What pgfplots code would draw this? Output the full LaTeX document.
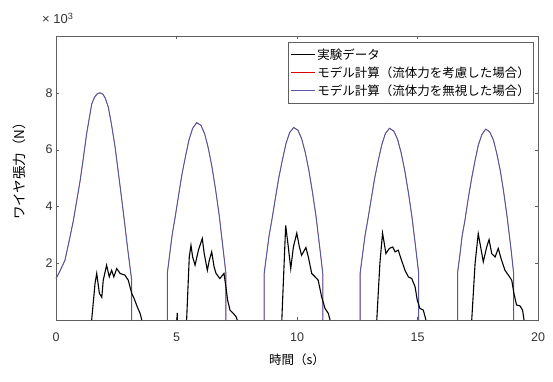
\documentclass[border=0pt]{standalone}
\usepackage{pgfplots}
\usepackage{pgfplotstable}
\pgfplotsset{compat=1.18}
\usepackage{fontspec}
\setmainfont{Liberation Sans}
\newfontfamily\jp{Noto Sans CJK JP}
\definecolor{modelblue}{RGB}{84,88,160}
\definecolor{axgray}{RGB}{95,95,95}

\pgfplotstableread{
t v
0 1.46
0.15 1.7
0.37 2.1
0.55 2.8
0.72 3.5
0.9 4.4
1.0 4.9
1.15 5.8
1.27 6.55
1.4 7.2
1.48 7.6
1.6 7.85
1.72 7.97
1.83 8.0
1.95 7.95
2.05 7.8
2.17 7.5
2.3 6.9
2.45 6.1
2.6 5.1
2.72 4.3
2.85 3.4
2.96 2.6
3.05 2.0
3.14 1.4
3.14 0
nan nan
4.62 0
4.62 1.65
4.72 2.33
4.82 3.0
4.94 3.6
5.07 4.3
5.22 5.1
5.37 5.75
5.52 6.35
5.67 6.75
5.84 6.95
6.02 6.85
6.17 6.55
6.32 6.05
6.47 5.4
6.62 4.6
6.77 3.7
6.92 2.6
7.05 1.64
7.05 0
nan nan
8.64 0
8.64 1.65
8.74 2.31
8.84 2.96
8.96 3.54
9.09 4.22
9.24 4.99
9.39 5.62
9.54 6.2
9.69 6.59
9.86 6.78
10.04 6.68
10.19 6.39
10.34 5.91
10.49 5.28
10.64 4.51
10.79 3.64
10.94 2.58
11.07 1.64
11.07 0
nan nan
12.62 0
12.62 1.65
12.72 2.31
12.82 2.96
12.94 3.54
13.07 4.21
13.22 4.98
13.37 5.61
13.52 6.18
13.67 6.57
13.84 6.75
14.02 6.65
14.17 6.37
14.32 5.89
14.47 5.27
14.62 4.5
14.77 3.63
14.92 2.58
15.05 1.64
15.05 0
nan nan
16.66 0
16.66 1.65
16.76 2.3
16.85 2.95
16.97 3.52
17.09 4.2
17.24 4.96
17.38 5.58
17.52 6.15
17.67 6.53
17.83 6.72
18.0 6.62
18.15 6.34
18.29 5.86
18.44 5.24
18.58 4.48
18.72 3.62
18.87 2.57
18.99 1.64
18.99 0
}\modeldata

\pgfplotstableread{
t v
1.48 0
1.62 1.29
1.69 1.64
1.8 0.94
1.9 0.8
1.96 1.4
2.1 1.93
2.21 1.52
2.31 1.75
2.4 1.52
2.52 1.81
2.66 1.64
2.86 1.58
3.0 1.4
3.14 0.94
3.24 0.76
3.37 0.47
3.49 0.23
3.56 0
nan nan
5.03 0
5.03 0.25
nan nan
5.42 0.0
5.53 2.22
5.60 2.63
5.67 2.22
5.77 1.93
5.91 2.46
6.07 2.87
6.15 2.34
6.28 1.75
6.36 2.1
6.46 2.4
6.56 1.87
6.64 1.64
6.8 1.46
6.97 1.64
7.05 1.17
7.12 0.7
7.22 0.35
7.36 0.23
7.47 0.12
7.52 0
nan nan
9.37 0
9.53 3.33
9.64 2.57
9.74 1.81
9.85 2.57
9.99 3.06
10.1 2.57
10.19 2.28
10.37 2.55
10.47 2.22
10.61 1.64
10.75 1.52
10.88 1.4
11.02 0.82
11.16 0.41
11.3 0.23
11.37 0
nan nan
13.31 0
13.44 2.0
13.55 3.06
13.69 2.34
13.83 2.52
13.97 2.57
14.07 2.4
14.2 2.46
14.34 2.1
14.48 1.75
14.62 1.52
14.76 1.46
14.9 1.17
14.99 0.7
15.1 0.41
15.24 0.35
15.35 0
nan nan
17.25 0
17.39 2.0
17.52 3.04
17.62 2.57
17.73 2.05
17.87 2.57
17.97 2.83
18.08 2.34
18.22 2.22
18.35 2.52
18.49 2.1
18.63 1.75
18.77 1.58
18.91 1.4
19.0 0.94
19.11 0.53
19.25 0.5
19.36 0.35
19.42 0
}\expdata

\begin{document}
\begin{tikzpicture}
\begin{axis}[
  at={(0pt,0pt)}, anchor=south west,
  scale only axis,
  width=482pt, height=284pt,
  xmin=0, xmax=20, ymin=0, ymax=10,
  xtick={0,5,10,15,20},
  ytick={2,4,6,8},
  tick align=inside,
  major tick length=3pt,
  tick style={axgray},
  axis line style={axgray, line width=0.9pt},
  unbounded coords=jump,
  /pgf/number format/assume math mode=true,
  tick label style={font=\fontsize{12.5}{14}\selectfont, text=black!80},
  xticklabel style={yshift=-9pt},
  ylabel={\jp ワイヤ張力（N）},
  ylabel style={at={(axis description cs:-0.077,0.535)}, anchor=center, font=\fontsize{13.5}{15}\selectfont},
  xlabel={\jp 時間（s）},
  xlabel style={at={(axis description cs:0.5,-0.141)}, anchor=center, font=\fontsize{12.5}{14}\selectfont},
  legend style={at={(axis description cs:0.991,0.979)}, anchor=north east,
    draw=axgray, line width=0.8pt, font=\jp\fontsize{12.5}{15}\selectfont,
    row sep=2pt, inner xsep=1.5pt, inner ysep=4pt},
  legend cell align=left,
  clip=false,
]
\addlegendimage{legend image code/.code={\draw[black, line width=1.2pt] (0pt,0pt) -- (24pt,0pt);}}
\addlegendentry{実験データ}
\addlegendimage{legend image code/.code={\draw[red!85!black, line width=1.2pt] (0pt,0pt) -- (24pt,0pt);}}
\addlegendentry{モデル計算（流体力を考慮した場合）}
\addlegendimage{legend image code/.code={\draw[modelblue, line width=1.2pt] (0pt,0pt) -- (24pt,0pt);}}
\addlegendentry{モデル計算（流体力を無視した場合）}

\addplot[red, line width=0.4pt, forget plot] table[x=t, y=v] {\modeldata};
\addplot[modelblue, line width=1pt, forget plot] table[x=t, y=v] {\modeldata};
\addplot[black, line width=1.1pt, forget plot] table[x=t, y=v] {\expdata};

\node[anchor=west, font=\fontsize{13}{15}\selectfont, text=black!80, inner sep=0pt] at (axis description cs:-0.029,1.063) {× 10\textsuperscript{3}};
\end{axis}
\pgfresetboundingbox
\useasboundingbox (-56pt,-61pt) rectangle (497pt,320pt);
\end{tikzpicture}
\end{document}
